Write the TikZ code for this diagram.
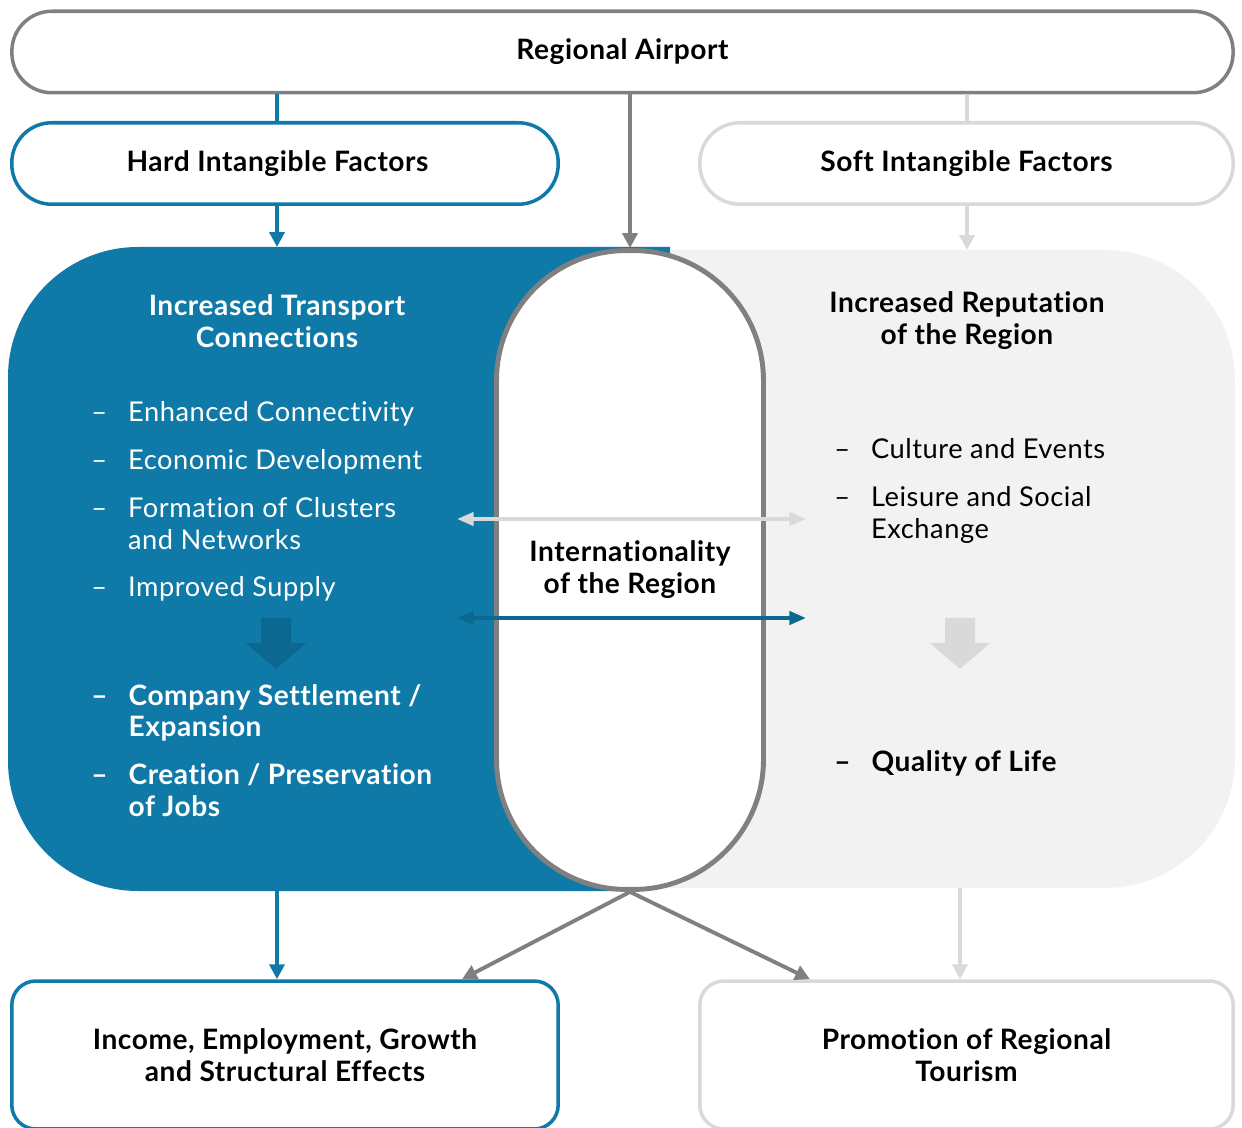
\documentclass[tikz,border=0pt]{standalone}
\usepackage{fontspec}
\setmainfont{Lato}[LetterSpace=2.0, Ligatures=NoCommon]
\usetikzlibrary{arrows.meta,positioning}
\definecolor{hardblue}{HTML}{0F7AA8}
\definecolor{darkblue}{HTML}{0B6891}
\definecolor{airgray}{HTML}{808080}
\definecolor{softgray}{HTML}{D9D9D9}
\definecolor{softfill}{HTML}{F2F2F2}
\newcommand{\bodyfont}{\fontsize{15.5}{18.14}\selectfont}
\newcommand{\headfont}{\fontsize{16}{18.14}\selectfont\bfseries}
\newcommand{\itemgap}{\\[9pt]}

\begin{document}
\begin{tikzpicture}[x=0.02cm, y=-0.02cm,
  every node/.style={font=\bodyfont},
  box/.style={draw, line width=2pt, rounded corners=0.8cm, minimum height=1.63cm, align=center, font=\headfont},
  endbox/.style={box, rounded corners=0.48cm, minimum height=2.96cm},
  title/.style={align=center, font=\headfont},
  list/.style={anchor=base west, inner sep=0pt},
  link/.style={line width=2.2pt},
  arr/.style={link, -{Triangle[width=8.5pt,length=8.5pt]}},
  both/.style={link, {Triangle[width=7.5pt,length=9.5pt]}-{Triangle[width=7.5pt,length=9.5pt]}}
]
\useasboundingbox (0,0) rectangle (1242,1128);
\clip (0,0) rectangle (1242,1128);

% the two coloured halves behind the middle pill
\begin{scope}
  \clip (0,0) -- (670,0) -- (670,570) -- (600,1128) -- (0,1128) -- cycle;
  \fill[hardblue, rounded corners=2.6cm] (8,247) rectangle (1000,891);
\end{scope}
\begin{scope}
  \clip (670,0) -- (670,570) -- (600,1128) -- (1242,1128) -- (1242,0) -- cycle;
  \fill[softfill, rounded corners=2.6cm] (300,250) rectangle (1235,888);
\end{scope}

\node[box, draw=airgray, minimum width=24.43cm] (airport) at (622.5,52) {Regional Airport};
\node[box, draw=hardblue, minimum width=10.93cm] (hard) at (285,163.5) {Hard Intangible Factors\hspace*{0.3cm}};
\node[box, draw=softgray, minimum width=10.67cm] (soft) at (966.5,163.5) {Soft Intangible Factors};

\node[draw=airgray, fill=white, line width=2.8pt, rounded corners=2.6cm, minimum width=5.34cm, minimum height=12.78cm, align=center, font=\headfont] (intl) at (630,570) {Internationality\\of the Region};

\node[endbox, draw=hardblue, minimum width=10.93cm] (income) at (285,1055) {Income, Employment, Growth\\and Structural Effects};
\node[endbox, draw=softgray, minimum width=10.67cm] (tourism) at (966.5,1055) {Promotion of Regional\\Tourism};

% left column
\node[title, text=white] (transp) at (277,321) {Increased Transport\\Connections};
\node[list, text=white] (hardlist) at (91,422) {\begin{tabular}[t]{@{}l@{\hspace{0.42cm}}l@{}}
  – & Enhanced Connectivity \itemgap
  – & Economic Development \itemgap
  – & Formation of Clusters \\
    & and Networks \itemgap
  – & Improved Supply
\end{tabular}};
\node[list, text=white, font=\headfont] (jobs) at (91,705) {\begin{tabular}[t]{@{}l@{\hspace{0.42cm}}l@{}}
  – & Company Settlement / \\
    & Expansion \itemgap
  – & Creation / Preservation \\
    & of Jobs
\end{tabular}};

% right column
\node[title] (reput) at (967,321) {Increased Reputation\\of the Region};
\node[list] (softlist) at (834,459) {\begin{tabular}[t]{@{}l@{\hspace{0.42cm}}l@{}}
  – & Culture and Events \itemgap
  – & Leisure and Social \\
    & Exchange
\end{tabular}};
\node[list, font=\headfont] (life) at (834,771) {\begin{tabular}[t]{@{}l@{\hspace{0.42cm}}l@{}}
  – & Quality of Life
\end{tabular}};

% block arrows inside the columns
\foreach \cx/\col in {276/darkblue, 960/softgray}
  \fill[\col] (\cx-15,618) -- (\cx+15,618) -- (\cx+15,643) -- (\cx+30,643)
    -- (\cx,669) -- (\cx-30,643) -- (\cx-15,643) -- cycle;

\coordinate (hardin) at (277,247);
\coordinate (hardout) at (277,891);
\coordinate (softin) at (967,250);
\coordinate (softout) at (960,888);
\coordinate (softw) at (457,519);
\coordinate (softe) at (806,519);
\coordinate (hardw) at (457,618);
\coordinate (harde) at (806,618);

\draw[link, hardblue] (airport.south -| hardin) -- (hard.north -| hardin);
\draw[arr, hardblue] (hard.south -| hardin) -- (hardin);
\draw[link, softgray] (airport.south -| softin) -- (soft.north -| softin);
\draw[arr, softgray] (soft.south -| softin) -- (softin);
\draw[arr, airgray] (airport.south -| intl.north) -- (intl.north);

\draw[both, softgray] (softw) -- (softe);
\draw[both, darkblue] (hardw) -- (harde);

\draw[arr, hardblue] (hardout) -- (income.north -| hardout);
\draw[arr, softgray] (softout) -- (tourism.north -| softout);
\draw[arr, airgray] (intl.south) -- ([xshift=-1.96cm]income.north east);
\draw[arr, airgray] (intl.south) -- ([xshift=2.24cm]tourism.north west);
\end{tikzpicture}
\end{document}
